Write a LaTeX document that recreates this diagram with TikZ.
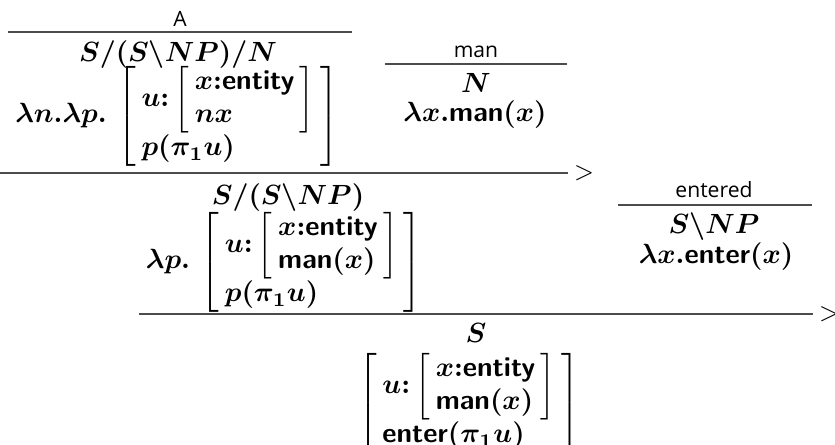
\documentclass[tikz,border=0pt]{standalone}
\usepackage{amsmath}
\usepackage{fontspec}
\usetikzlibrary{positioning}
\newfontfamily\wordfont{Open Sans}
\newcommand{\pred}[1]{\textsf{\bfseries #1}}
\newcommand{\dtsrec}[2]{\left[\begin{array}{l}#1\\#2\end{array}\right]}
\setlength{\arraycolsep}{2pt}

\begin{document}
\begin{tikzpicture}[
          x=0.36pt, y=-0.36pt,
          node distance=0.7mm,
          word/.style={font=\wordfont\fontsize{7.6}{9}\selectfont, inner sep=0pt, anchor=base},
          cat/.style={font=\boldmath, inner sep=0pt, anchor=base},
          sem/.style={font=\boldmath, inner sep=0pt},
          rule/.style={draw=black!70, line width=0.6pt},
          comb/.style={font=\wordfont\fontsize{9}{10}\selectfont, inner sep=0pt, anchor=west}
        ]
        \useasboundingbox (0,0) rectangle (835,445);
        % lexical entries
        \node[word] (wA) at (180,27) {A};
        \coordinate (rAw) at (8,32);
        \coordinate (rAe) at (352,32);
        \node[cat] (cA) at (178,62) {$S/(S\backslash NP)/N$};
        \node[sem] (sA) at (177,116) {$\lambda n.\lambda p.\,\dtsrec{u{:}\dtsrec{x{:}\pred{entity}}{nx}}{p(\pi_1u)}$};

        \node[word] (wM) at (476,58) {man};
        \coordinate (rMw) at (385,64);
        \coordinate (rMe) at (567,64);
        \node[cat] (cM) at (476,93) {$N$};
        \node[sem, anchor=base] (sM) at (475,122) {$\lambda x.\pred{man}(x)$};

        \node[word] (wE) at (714,198) {entered};
        \coordinate (rEw) at (618,205);
        \coordinate (rEe) at (812,205);
        \node[cat] (cE) at (714,234) {$S\backslash NP$};
        \node[sem, anchor=base] (sE) at (716,264) {$\lambda x.\pred{enter}(x)$};

        % first forward application
        \coordinate (r2w) at (0,173);
        \coordinate (r2e) at (568,173);
        \node[comb, right=of r2e] (op2) {$>$};
        \node[cat] (cSN) at (288,205) {$S/(S\backslash NP)$};
        \node[sem] (sSN) at (284,262) {$\lambda p.\,\dtsrec{u{:}\dtsrec{x{:}\pred{entity}}{\pred{man}(x)}}{p(\pi_1u)}$};

        % second forward application
        \coordinate (r3w) at (139,314);
        \coordinate (r3e) at (813,314);
        \node[comb, right=of r3e] (op3) {$>$};
        \node[cat] (cS) at (476,343) {$S$};
        \node[sem] (sS) at (469,403) {$\dtsrec{u{:}\dtsrec{x{:}\pred{entity}}{\pred{man}(x)}}{\pred{enter}(\pi_1u)}$};

        \draw[rule] (rAw) -- (rAe);
        \draw[rule] (rMw) -- (rMe);
        \draw[rule] (rEw) -- (rEe);
        \draw[rule] (r2w) -- (r2e);
        \draw[rule] (r3w) -- (r3e);
      \end{tikzpicture}
\end{document}
